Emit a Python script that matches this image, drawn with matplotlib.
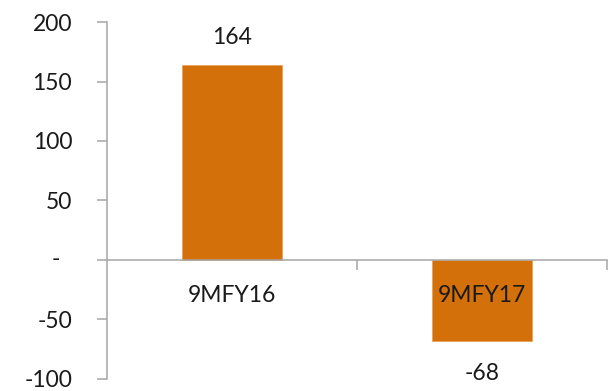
import matplotlib.pyplot as plt
from matplotlib.ticker import FixedLocator

periods = ["9MFY16", "9MFY17"]
values = [164, -68]
y_ticks = [-100, -50, 0, 50, 100, 150, 200]
y_labels = ["-100", "-50", "", "50", "100", "150", "200"]

bar_color = "#D4700A"
axis_color = "#A6A6A6"
fs = 16.5

plt.rcParams["font.family"] = ["Lato", "DejaVu Sans"]

fig = plt.figure(figsize=(6.11, 3.91), dpi=100)
ax = fig.add_axes([0.175, 0.031, 0.8185, 0.9126])

x = list(range(len(periods)))
ax.bar(x, values, width=0.4, color=bar_color, edgecolor="#E9A15C", linewidth=0.6, zorder=1)

# value labels above/below each bar
for xi, v in zip(x, values):
    if v >= 0:
        ax.annotate(str(v), (xi, v), xytext=(0, 12), textcoords="offset points",
                    ha="center", va="bottom", fontsize=fs, color="#1a1a1a")
    else:
        ax.annotate(str(v), (xi, v), xytext=(0, -16), textcoords="offset points",
                    ha="center", va="top", fontsize=fs, color="#1a1a1a")

ax.set_xlim(-0.5, 1.5)
ax.set_ylim(-100, 200)
ax.set_yticks(y_ticks)
ax.set_yticklabels(y_labels, fontsize=fs, color="#1a1a1a")
ax.tick_params(axis="y", direction="out", length=7, width=1.1, color=axis_color, pad=18)

# zero is shown as a dash, set a bit left of the other labels
ax.text(-0.102, 0, "-", transform=ax.get_yaxis_transform(), ha="center", va="center",
        fontsize=fs, color="#1a1a1a")

# category axis sits on the zero line, ticks at category boundaries
ax.spines["bottom"].set_position(("data", 0))
ax.set_xticks(x)
ax.set_xticklabels(periods, fontsize=fs, color="#1a1a1a")
ax.tick_params(axis="x", which="major", length=0, pad=18)
ax.xaxis.set_minor_locator(FixedLocator([0.5, 1.5]))
ax.tick_params(axis="x", which="minor", direction="out", length=7, width=1.1, color=axis_color)

for s in ["top", "right"]:
    ax.spines[s].set_visible(False)
for s in ["left", "bottom"]:
    ax.spines[s].set_color(axis_color)
    ax.spines[s].set_linewidth(1.1)

plt.savefig("out.png", dpi=100)
